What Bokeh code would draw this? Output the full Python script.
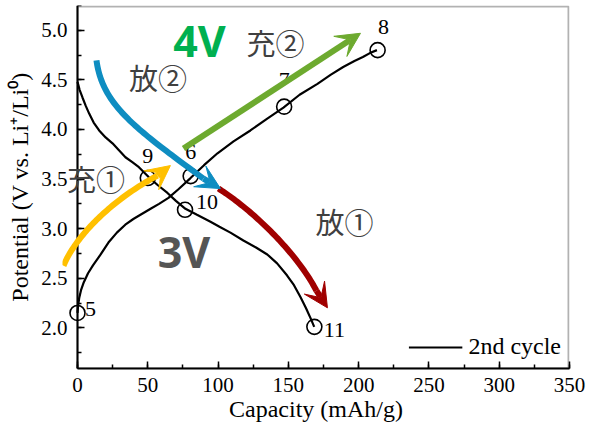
import numpy as np
from bokeh.plotting import figure
from bokeh.models import (Label, Arrow, VeeHead, PolyAnnotation, BoxAnnotation,
                          LinearAxis, SingleIntervalTicker, PrintfTickFormatter)
from bokeh.embed import file_html
from bokeh.resources import INLINE

# ---------------- data ----------------
charge_cap = [0, 0.4, 1.2, 2.5, 4.5, 7.5, 11, 16, 22, 28, 34, 40, 46, 52, 58, 64.7, 72, 80.4, 90, 99.6, 111, 123, 135, 146.5, 158, 170.7, 180, 189, 197, 203, 208, 213]
charge_v = [2.15, 2.22, 2.30, 2.38, 2.46, 2.55, 2.63, 2.73, 2.86, 2.96, 3.04, 3.10, 3.15, 3.20, 3.25, 3.31, 3.40, 3.51, 3.64, 3.76, 3.88, 3.99, 4.11, 4.22, 4.35, 4.46, 4.55, 4.63, 4.69, 4.73, 4.77, 4.80]

discharge_cap = [0, 1.5, 3.6, 5.8, 8.3, 11.5, 15.4, 20, 24.9, 29.5, 34.1, 39, 43.7, 50.6, 57, 64, 70, 76.8, 85, 94.6, 101, 108.8, 118, 127, 135, 142, 149, 154, 158.6, 162.5, 165.7, 168.4]
discharge_v = [4.48, 4.40, 4.32, 4.24, 4.16, 4.07, 3.99, 3.92, 3.86, 3.79, 3.72, 3.67, 3.62, 3.52, 3.44, 3.36, 3.28, 3.20, 3.14, 3.07, 3.02, 2.96, 2.88, 2.81, 2.74, 2.65, 2.53, 2.43, 2.31, 2.20, 2.10, 2.01]

marker_cap = [0, 50, 80.5, 147, 213.5, 76.5, 168.5]
marker_v = [2.15, 3.51, 3.53, 4.23, 4.80, 3.19, 2.01]
marker_ids = ["5", "9", "6", "7", "8", "10", "11"]

legend_label = "2nd cycle"
x_title = "Capacity (mAh/g)"
y_title = "Potential (V vs. Li\u207a/Li\u2070)"

# annotation arrows: cubic Bezier control points (data units) + arrow tip
yellow_ctrl_x = [-9.96, -1.42, 23.5, 56.9]
yellow_ctrl_y = [2.626, 2.919, 3.283, 3.535]
yellow_tip = (66.1, 3.636)
blue_ctrl_x = [13.5, 17.8, 41.3, 89.6]
blue_ctrl_y = [4.697, 4.242, 4.010, 3.505]
blue_tip = (101.7, 3.404)
red_ctrl_x = [100.3, 123, 155, 170]
red_ctrl_y = [3.404, 3.202, 2.778, 2.374]
red_tip = (177.8, 2.202)
green_start = (75.4, 3.808)
green_tip = (201.3, 4.970)

# ---------------- figure ----------------
X_AXIS = (0, 350)
X_RANGE = (-10.67, 350)          # a little room left of the axis for annotations
Y_RANGE = (1.59, 5.25)
FW, FH = 507, 363

p = figure(frame_width=FW, frame_height=FH, x_range=X_RANGE, y_range=Y_RANGE,
           output_backend="svg", toolbar_location=None,
           min_border_left=62, min_border_right=20, min_border_top=5, min_border_bottom=58)

p.xgrid.visible = False
p.ygrid.visible = False
p.outline_line_color = None
p.background_fill_color = "white"
p.border_fill_color = "white"

SERIF = "Times New Roman"

# x axis
xa = p.xaxis[0]
xa.ticker = SingleIntervalTicker(interval=50, num_minor_ticks=2)
xa.bounds = X_AXIS
xa.axis_line_width = 2
xa.major_tick_in = 7
xa.major_tick_out = 0
xa.minor_tick_in = 4
xa.minor_tick_out = 0
xa.major_tick_line_width = 1.5
xa.minor_tick_line_width = 1.5
xa.major_label_standoff = 9
xa.axis_label_standoff = 1

# y axis in the side panel: tick labels and title only
ya = p.yaxis[0]
ya.ticker = SingleIntervalTicker(interval=0.5, num_minor_ticks=2)
ya.formatter = PrintfTickFormatter(format="%.1f")
ya.axis_line_color = None
ya.major_tick_line_color = None
ya.minor_tick_line_color = None
ya.major_tick_in = 0
ya.major_tick_out = 0
ya.minor_tick_in = 0
ya.minor_tick_out = 0
ya.major_label_standoff = -5
ya.axis_label_standoff = 5

# y axis line + ticks at capacity = 0
yline = LinearAxis(ticker=SingleIntervalTicker(interval=0.5, num_minor_ticks=2),
                   fixed_location=0, major_label_text_color=None,
                   axis_line_width=2, major_tick_in=7, major_tick_out=0,
                   minor_tick_in=4, minor_tick_out=0,
                   major_tick_line_width=1.5, minor_tick_line_width=1.5)
p.add_layout(yline, "left")

for ax in (xa, ya):
    ax.major_label_text_font = SERIF
    ax.major_label_text_font_size = "21px"
    ax.major_label_text_color = "black"
    ax.axis_label_text_font = SERIF
    ax.axis_label_text_font_size = "24px"
    ax.axis_label_text_font_style = "normal"
    ax.axis_label_text_color = "black"
xa.axis_label = x_title
ya.axis_label = y_title

# top / right frame lines (kept 1px inside the frame so they are not clipped)
kx = FW / (X_RANGE[1] - X_RANGE[0])
ky = FH / (Y_RANGE[1] - Y_RANGE[0])
p.add_layout(BoxAnnotation(left=X_AXIS[0], right=X_AXIS[1] - 1 / kx,
                           bottom=Y_RANGE[0], top=Y_RANGE[1] - 1 / ky,
                           fill_alpha=0, line_color="black", line_width=2))

# curves
p.line(charge_cap, charge_v, line_color="black", line_width=2.2, legend_label=legend_label)
p.line(discharge_cap, discharge_v, line_color="black", line_width=2.2)
p.scatter(marker_cap, marker_v, marker="circle", size=15, fill_color=None,
          line_color="black", line_width=1.6)

# point numbers (pixel offsets from their markers)
id_dx = [13, 0, 0, 0, 6, 22, 20]
id_dy = [-4, -22, -24, -27, -23, -8, 3]
for t, x, y, dx, dy in zip(marker_ids, marker_cap, marker_v, id_dx, id_dy):
    p.add_layout(Label(x=x, y=y, text=t, x_offset=dx, y_offset=-dy, text_font=SERIF,
                       text_font_size="22px", text_align="center", text_baseline="middle",
                       text_color="black"))

# legend
lg = p.legend[0]
lg.location = "bottom_right"
lg.border_line_alpha = 0
lg.background_fill_alpha = 0
lg.label_text_font = SERIF
lg.label_text_font_size = "24px"
lg.label_text_color = "black"
lg.glyph_width = 54
lg.label_standoff = 6
lg.margin = 2
lg.padding = 6

# ---------------- arrows ----------------


def band(cx, cy, width=6.0, n=60):
    t = np.linspace(0, 1, n)[:, None]
    P = np.column_stack([np.array(cx) * kx, np.array(cy) * ky])
    B = ((1 - t) ** 3) * P[0] + 3 * ((1 - t) ** 2) * t * P[1] + 3 * (1 - t) * t ** 2 * P[2] + t ** 3 * P[3]
    d = np.gradient(B, axis=0)
    d /= np.linalg.norm(d, axis=1)[:, None]
    nrm = np.column_stack([-d[:, 1], d[:, 0]])
    L = B + nrm * width / 2
    R = B - nrm * width / 2
    poly = np.vstack([L, R[::-1]])
    return list(poly[:, 0] / kx), list(poly[:, 1] / ky)


def curved_arrow(cx, cy, tip, color):
    xs, ys = band(cx, cy)
    p.add_layout(PolyAnnotation(xs=xs, ys=ys, fill_color=color, fill_alpha=1,
                                line_alpha=0))
    p.add_layout(Arrow(end=VeeHead(size=24, fill_color=color, line_color=color, line_width=1),
                       x_start=cx[3], y_start=cy[3], x_end=tip[0], y_end=tip[1],
                       line_color=color, line_width=6))


RED, BLUE, YELLOW, GREEN = "#A00000", "#0E8DC1", "#FFC000", "#6DAA2F"
curved_arrow(red_ctrl_x, red_ctrl_y, red_tip, RED)
curved_arrow(blue_ctrl_x, blue_ctrl_y, blue_tip, BLUE)
curved_arrow(yellow_ctrl_x, yellow_ctrl_y, yellow_tip, YELLOW)
p.add_layout(Arrow(end=VeeHead(size=24, fill_color=GREEN, line_color=GREEN, line_width=1),
                   x_start=green_start[0], y_start=green_start[1],
                   x_end=green_tip[0], y_end=green_tip[1], line_color=GREEN, line_width=6))

# ---------------- text annotations ----------------
CJK = "Noto Sans CJK JP"
GRAY = "#404040"
for txt, x, y in [("充②", 140.8, 4.878), ("放②", 57.3, 4.525), ("充①", 13.2, 3.51), ("放①", 189.9, 3.08)]:
    p.add_layout(Label(x=x, y=y, text=txt, text_font=CJK, text_font_size="29px",
                       text_color=GRAY, text_align="center", text_baseline="middle"))
p.add_layout(Label(x=86.8, y=4.90, text="4V", text_font="Noto Sans", text_font_style="bold",
                   text_font_size="43px", text_color="#00B050", text_align="center",
                   text_baseline="middle"))
p.add_layout(Label(x=75.7, y=2.767, text="3V", text_font="Noto Sans", text_font_style="bold",
                   text_font_size="43px", text_color="#555555", text_align="center",
                   text_baseline="middle"))

open("out.html", "w").write(file_html(p, INLINE))
